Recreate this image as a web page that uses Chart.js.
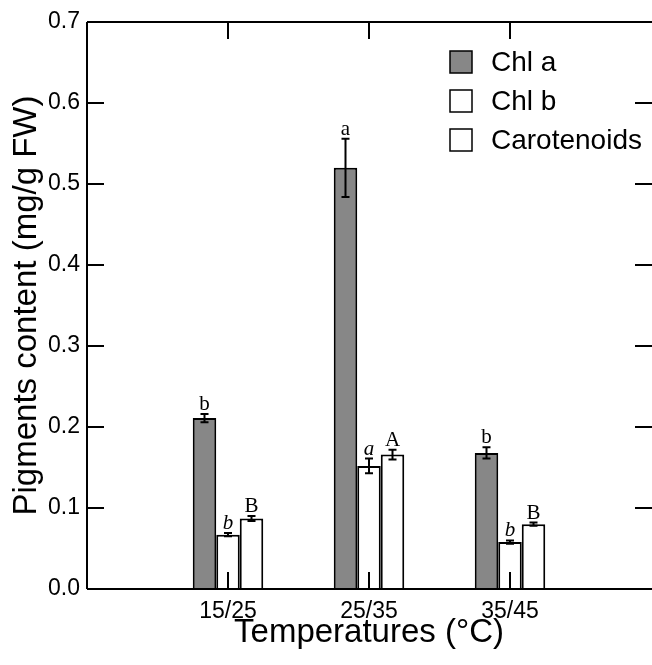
<!DOCTYPE html>
<html>
<head>
<meta charset="utf-8">
<script src="https://cdn.jsdelivr.net/npm/chart.js@4.4.1/dist/chart.umd.min.js"></script>
<style>
  html, body { margin: 0; padding: 0; background: #fff; }
  #wrap { width: 652px; height: 665px; overflow: hidden; }
  #box { width: 660px; height: 665px; }
</style>
</head>
<body>
<div id="wrap"><div id="box"><canvas id="myChart"></canvas></div></div>
<script>
// dane
var temperatures = ['', '15/25', '25/35', '35/45', ''];
var chlA = [null, 0.211, 0.520, 0.168, null];
var chlB = [null, 0.067, 0.152, 0.058, null];
var carot = [null, 0.087, 0.166, 0.080, null];
var chlAErr = [0, 0.005, 0.036, 0.007, 0];
var chlBErr = [0, 0.002, 0.009, 0.002, 0];
var carotErr = [0, 0.003, 0.006, 0.002, 0];
var chlALetters = ['', 'b', 'a', 'b', ''];
var chlBLetters = ['', 'b', 'a', 'b', ''];
var carotLetters = ['', 'B', 'A', 'B', ''];
var yTicks = [0, 0.1, 0.2, 0.3, 0.4, 0.5, 0.6, 0.7];

var sans = "'Liberation Sans', Arial, sans-serif";
var serif = "'Liberation Serif', 'Times New Roman', serif";

var extras = [
  { err: chlAErr, letters: chlALetters, italic: false },
  { err: chlBErr, letters: chlBLetters, italic: true },
  { err: carotErr, letters: carotLetters, italic: false }
];

// ramka, znaczniki do srodka, slupki bledow, litery, legenda
var frame = {
  id: 'frame',
  afterDatasetsDraw: function (chart) {
    var ctx = chart.ctx, a = chart.chartArea;
    var x = chart.scales.x, y = chart.scales.y;
    var right = a.right + 1; // prawa os jest poza kadrem
    ctx.save();
    ctx.strokeStyle = '#000';
    ctx.lineWidth = 2;
    ctx.beginPath();
    ctx.moveTo(a.left, a.top); ctx.lineTo(right + 10, a.top);
    ctx.moveTo(a.left, a.top); ctx.lineTo(a.left, a.bottom);
    ctx.moveTo(a.left, a.bottom); ctx.lineTo(right + 10, a.bottom);
    yTicks.forEach(function (v) {
      var py = y.getPixelForValue(v);
      ctx.moveTo(a.left, py); ctx.lineTo(a.left + 17, py);
      ctx.moveTo(right, py); ctx.lineTo(right - 17, py);
    });
    for (var i = 1; i < temperatures.length - 1; i++) {
      var px = x.getPixelForValue(i);
      ctx.moveTo(px, a.bottom); ctx.lineTo(px, a.bottom - 17);
      ctx.moveTo(px, a.top); ctx.lineTo(px, a.top + 17);
    }
    ctx.stroke();

    chart.data.datasets.forEach(function (ds, d) {
      var meta = chart.getDatasetMeta(d);
      var ex = extras[d];
      meta.data.forEach(function (bar, i) {
        var v = ds.data[i];
        if (v === null) return;
        var e = ex.err[i];
        var top = y.getPixelForValue(v + e), bot = y.getPixelForValue(v - e);
        ctx.lineWidth = 2;
        ctx.beginPath();
        ctx.moveTo(bar.x, top); ctx.lineTo(bar.x, bot);
        ctx.moveTo(bar.x - 4, top); ctx.lineTo(bar.x + 4, top);
        ctx.moveTo(bar.x - 4, bot); ctx.lineTo(bar.x + 4, bot);
        ctx.stroke();
        ctx.fillStyle = '#000';
        ctx.font = (ex.italic ? 'italic ' : '') + '21px ' + serif;
        ctx.textAlign = 'center';
        ctx.textBaseline = 'alphabetic';
        ctx.fillText(ex.letters[i], bar.x, top - 4);
      });
    });

    // legenda
    chart.data.datasets.forEach(function (ds, d) {
      var ly = 51 + d * 39;
      ctx.fillStyle = ds.backgroundColor;
      ctx.fillRect(450, ly, 22, 22);
      ctx.lineWidth = 1.5;
      ctx.strokeRect(450, ly, 22, 22);
      ctx.fillStyle = '#000';
      ctx.font = '28px ' + sans;
      ctx.textAlign = 'left';
      ctx.textBaseline = 'middle';
      ctx.fillText(ds.label, 491, ly + 12);
    });
    ctx.restore();
  }
};

var ctx = document.getElementById('myChart').getContext('2d');
var chart = new Chart(ctx, {
  type: 'bar',
  data: {
    labels: temperatures,
    datasets: [
      { label: 'Chl a', data: chlA, backgroundColor: '#878787', borderColor: '#000', borderWidth: 2 },
      { label: 'Chl b', data: chlB, backgroundColor: '#ffffff', borderColor: '#000', borderWidth: 2 },
      { label: 'Carotenoids', data: carot, backgroundColor: '#ffffff', borderColor: '#000', borderWidth: 2 }
    ]
  },
  plugins: [frame],
  options: {
    responsive: true,
    maintainAspectRatio: false,
    animation: false,
    categoryPercentage: 0.5,
    barPercentage: 1.0,
    layout: { padding: { left: 0, right: 7, top: 22, bottom: 0 } },
    plugins: { legend: { display: false }, tooltip: { enabled: false } },
    scales: {
      x: {
        offset: false,
        grid: { display: false, drawTicks: false },
        border: { display: false },
        ticks: { color: '#000', padding: 9, maxRotation: 0, autoSkip: false, font: { family: sans, size: 23 } },
        title: { display: true, text: 'Temperatures (°C)', color: '#000', padding: { top: 0, bottom: 12 }, font: { family: sans, size: 33 } },
        afterFit: function (s) { s.height = 76; }
      },
      y: {
        min: 0,
        max: 0.7,
        grid: { display: false, drawTicks: false },
        border: { display: false },
        ticks: {
          stepSize: 0.1, color: '#000', padding: 7, font: { family: sans, size: 23 },
          callback: function (v) { return v.toFixed(1); }
        },
        title: { display: true, text: 'Pigments content (mg/g FW)', color: '#000', padding: { top: 7, bottom: 0 }, font: { family: sans, size: 33 } },
        afterFit: function (s) { s.width = 87; }
      }
    }
  }
});
</script>
</body>
</html>
